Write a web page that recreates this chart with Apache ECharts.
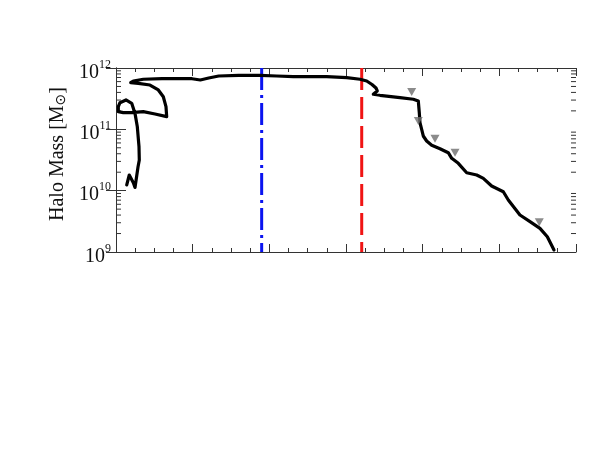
<!DOCTYPE html>
<html>
<head>
<meta charset="utf-8">
<script src="https://cdn.jsdelivr.net/npm/echarts@6/dist/echarts.min.js"></script>
<style>
  html, body { margin: 0; padding: 0; background: #fff; }
  #chart { width: 598px; height: 462px; }
</style>
</head>
<body>
<div id="chart"></div>
<script>
// halo mass track (x in plot units, y in solar masses)
const trackX = [0.140, 0.173, 0.226, 0.248, 0.287, 0.304, 0.300, 0.278, 0.248, 0.205,
  0.130, 0.052, 0.030, 0.030, 0.095, 0.205, 0.356, 0.509, 0.661, 0.652,
  0.617, 0.552, 0.443, 0.291, 0.192, 0.226, 0.356, 0.600, 0.991, 1.100,
  1.209, 1.340, 1.600, 1.878, 2.096, 2.313, 2.748, 3.009, 3.183, 3.270,
  3.339, 3.391, 3.408, 3.356, 3.443, 3.704, 3.878, 3.943, 3.956, 3.965,
  3.987, 4.008, 4.052, 4.118, 4.226, 4.334, 4.379, 4.465, 4.574, 4.705,
  4.791, 4.900, 5.052, 5.117, 5.269, 5.400, 5.530, 5.626, 5.713];
const trackMass = [1.24e10, 1.80e10, 1.35e10, 1.13e10, 2.43e10, 3.16e10, 5.21e10, 1.10e11, 1.82e11, 2.66e11,
  3.01e11, 2.72e11, 2.34e11, 1.94e11, 1.87e11, 1.87e11, 1.94e11, 1.78e11, 1.61e11, 2.34e11,
  3.40e11, 4.38e11, 5.28e11, 5.63e11, 5.76e11, 6.14e11, 6.55e11, 6.69e11, 6.69e11, 6.37e11,
  6.87e11, 7.41e11, 7.60e11, 7.60e11, 7.41e11, 7.21e11, 7.21e11, 6.95e11, 6.55e11, 6.14e11,
  5.38e11, 4.72e11, 4.22e11, 3.73e11, 3.59e11, 3.28e11, 3.09e11, 2.90e11, 1.87e11, 1.28e11,
  1.00e11, 7.79e10, 6.45e10, 5.49e10, 4.83e10, 4.16e10, 3.37e10, 2.79e10, 1.96e10, 1.80e10,
  1.59e10, 1.19e10, 9.62e9, 7.04e9, 4.01e9, 3.12e9, 2.43e9, 1.77e9, 1.08e9];

// grey triangle markers
const markX = [3.857, 3.943, 4.161, 4.422, 5.521];
const markMass = [4.06e11, 1.37e11, 7.03e10, 4.16e10, 3.05e9];

// vertical reference lines
const blueLineX = 1.90;
const redLineX = 3.205;

const xMin = 0, xMax = 6;
const yMin = 1e9, yMax = 1e12;
const yMinorTicks = [];
for (let d = 9; d < 12; d++) {
  for (let m = 2; m <= 9; m++) yMinorTicks.push(m * Math.pow(10, d));
}

const chart = echarts.init(document.getElementById('chart'));
const serif = 'Liberation Serif';
const axisColor = '#333';

const xAxisBase = {
  type: 'value', min: xMin, max: xMax, interval: 1,
  axisLine: { lineStyle: { color: axisColor, width: 1 } },
  axisTick: { inside: true, length: 8, lineStyle: { color: axisColor } },
  minorTick: { show: true, splitNumber: 4, length: 4, lineStyle: { color: axisColor } },
  axisLabel: { show: false },
  splitLine: { show: false }
};
const yAxisBase = {
  type: 'log', min: yMin, max: yMax, logBase: 10,
  axisLine: { show: true, lineStyle: { color: axisColor, width: 1 } },
  axisTick: { show: true, inside: true, length: 10, lineStyle: { color: axisColor } },
  splitLine: { show: false }
};

chart.setOption({
  animation: false,
  grid: { left: 116, top: 68, width: 460, height: 184 },
  xAxis: [
    Object.assign({ position: 'bottom' }, xAxisBase),
    Object.assign({ position: 'top' }, xAxisBase)
  ],
  yAxis: [
    Object.assign({}, yAxisBase, {
      position: 'left',
      name: '{a|Halo Mass [M}{s|⊙}{a|]}',
      nameLocation: 'middle',
      nameGap: 44,
      nameTextStyle: {
        padding: [0, 0, 0, 12],
        rich: {
          a: { fontFamily: serif, fontSize: 20, color: '#111' },
          s: { fontFamily: 'DejaVu Sans', fontSize: 14, color: '#111', verticalAlign: 'bottom', lineHeight: 14, padding: [9, 0, 0, 0] }
        }
      },
      axisLabel: {
        margin: 5,
        padding: [9, 0, 0, 0],
        formatter: function (v) {
          return '{b|10}{s|' + Math.round(Math.log10(v)) + '}';
        },
        rich: {
          b: { fontFamily: serif, fontSize: 20, color: '#111', lineHeight: 28 },
          s: { fontFamily: serif, fontSize: 12, color: '#111', lineHeight: 12, verticalAlign: 'top' }
        }
      }
    }),
    Object.assign({}, yAxisBase, { position: 'right', axisLabel: { show: false } })
  ],
  series: [
    {
      type: 'line',
      data: [[blueLineX, yMax], [blueLineX, yMin]],
      showSymbol: false,
      lineStyle: { color: '#0a14f0', width: 3, type: [22, 5, 3, 5] },
      z: 2
    },
    {
      type: 'line',
      data: [[redLineX, yMax], [redLineX, yMin]],
      showSymbol: false,
      lineStyle: { color: '#f01414', width: 3, type: [22, 7] },
      z: 2
    },
    {
      type: 'line',
      data: trackX.map((x, i) => [x, trackMass[i]]),
      showSymbol: false,
      lineStyle: { color: '#000', width: 3.2, join: 'round', cap: 'round' },
      z: 3
    },
    {
      type: 'scatter',
      data: markX.map((x, i) => [x, markMass[i]]),
      symbol: 'triangle',
      symbolRotate: 180,
      symbolSize: [9, 8],
      itemStyle: { color: '#6e6e6e' },
      z: 4
    }
  ]
});

// log-spaced minor ticks on left and right axes
const tickLines = [];
yMinorTicks.forEach(v => {
  const pl = chart.convertToPixel({ gridIndex: 0 }, [xMin, v]);
  const pr = chart.convertToPixel({ gridIndex: 0 }, [xMax, v]);
  tickLines.push({ type: 'line', shape: { x1: pl[0], y1: pl[1], x2: pl[0] + 5, y2: pl[1] }, style: { stroke: axisColor, lineWidth: 1 } });
  tickLines.push({ type: 'line', shape: { x1: pr[0] - 5, y1: pr[1], x2: pr[0], y2: pr[1] }, style: { stroke: axisColor, lineWidth: 1 } });
});
chart.setOption({ graphic: tickLines });
</script>
</body>
</html>
